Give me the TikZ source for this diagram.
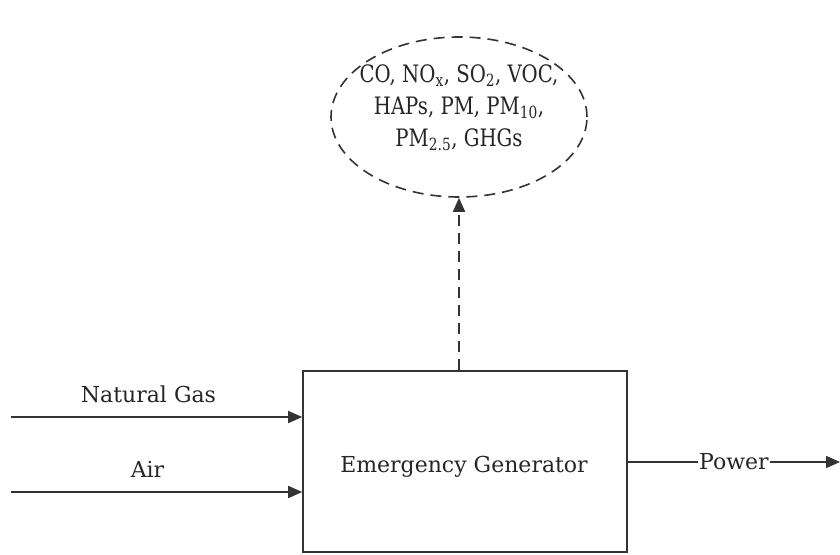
\documentclass[tikz,border=0pt]{standalone}
\usepackage{fontspec}
\setmainfont{DejaVu Serif}
\newfontfamily\emfont[FakeStretch=0.82]{DejaVu Serif}
\usetikzlibrary{arrows.meta,shapes.geometric}
\begin{document}
\begin{tikzpicture}[x=1pt,y=-1pt,
  every node/.style={font=\fontsize{22}{32}\selectfont, text=black!85},
  ln/.style={draw=black!80, line width=1.6pt},
  arr/.style={ln, -{Triangle[length=14pt,width=12pt]}},
  dsh/.style={dash pattern=on 11pt off 7pt}]
\useasboundingbox (0,0) rectangle (840,554);
\node[ln, minimum width=324pt, minimum height=181pt, inner sep=0pt] (gen) at (465,461.5) {};
\node[anchor=base, inner sep=0pt] (gent) at (464,472) {Emergency Generator};
\node[ln, dsh, ellipse, minimum width=256pt, minimum height=160pt, inner sep=0pt] (em) at (459,117) {};
\node[align=center, inner sep=0pt, font=\emfont\fontsize{24}{32}\selectfont] (emt) at (459,107.5) {CO, NO\textsubscript{x}, SO\textsubscript{2}, VOC,\\HAPs, PM, PM\textsubscript{10},\\PM\textsubscript{2.5}, GHGs};
\coordinate (ng0) at (11,417);
\coordinate (air0) at (11,492);
\coordinate (pw) at (840,462);
\draw[arr] (ng0) -- (gen.west |- ng0);
\draw[arr] (air0) -- (gen.west |- air0);
\node[anchor=base, inner sep=0pt] (ngl) at (148.5,402) {Natural Gas};
\node[anchor=base, inner sep=0pt] (airl) at (147.5,477) {Air};
\draw[arr] (gen.east |- pw) -- node[fill=white, inner sep=1pt, pos=0.5] (pwl) {Power} (pw);
\draw[arr, dsh] (gen.north -| em.south) -- (em.south);
\end{tikzpicture}
\end{document}
